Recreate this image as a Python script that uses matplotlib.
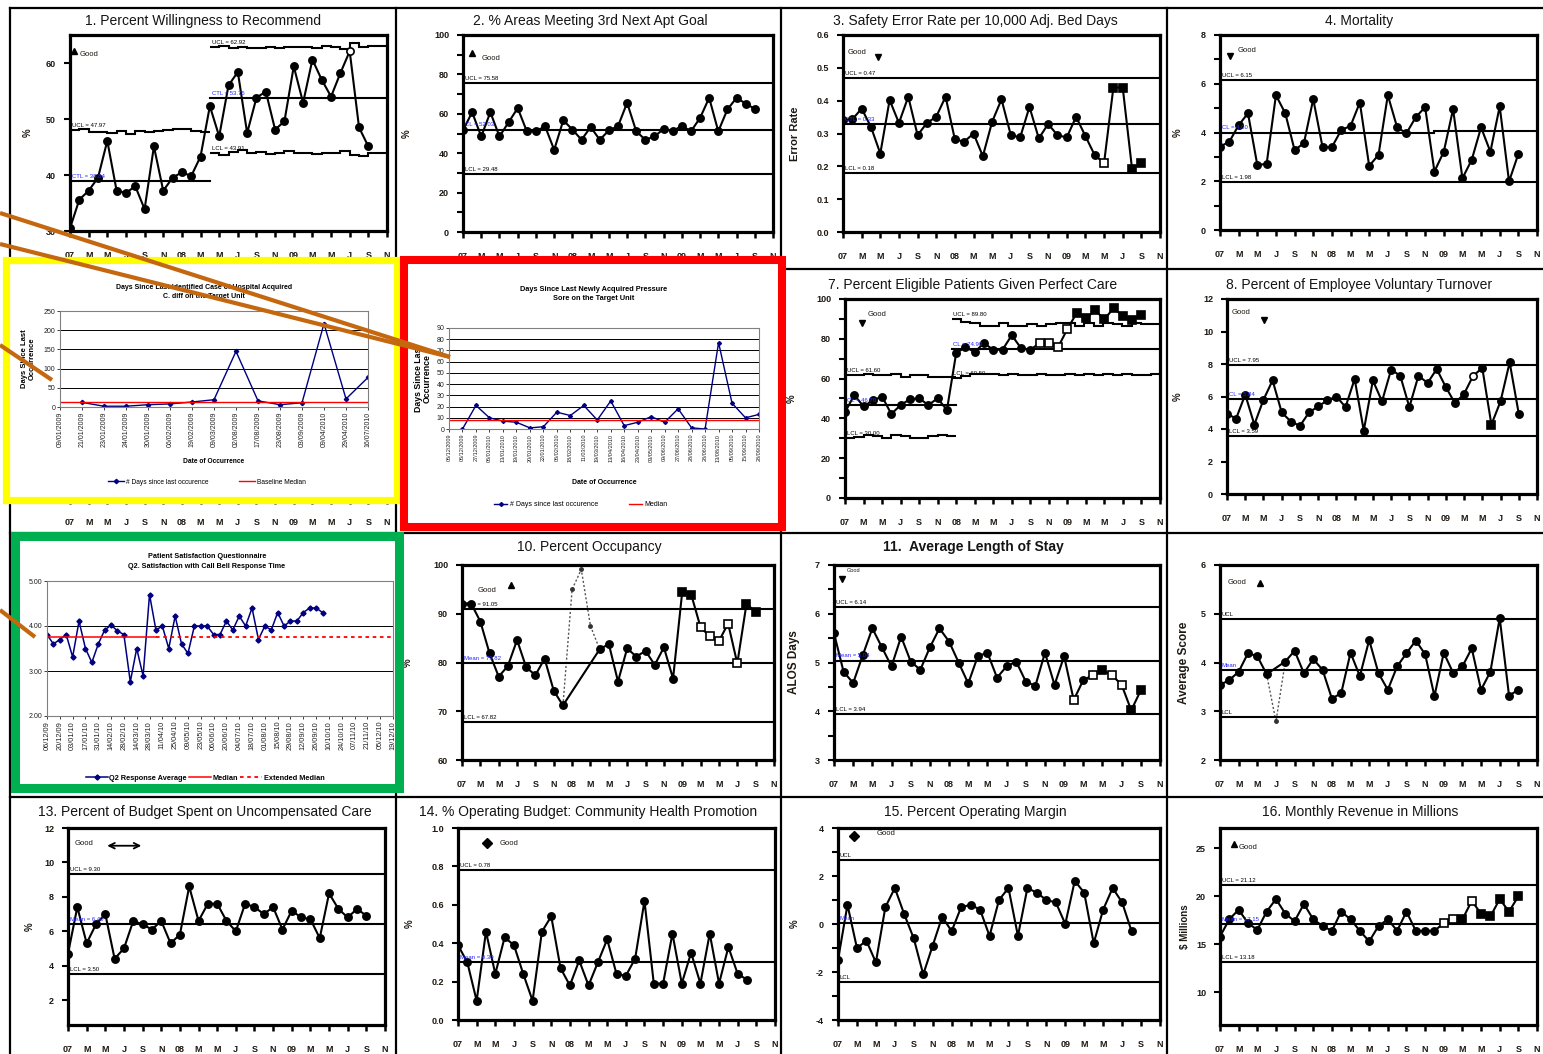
import numpy as np
import matplotlib.pyplot as plt
from matplotlib.patches import Rectangle
from matplotlib.lines import Line2D

plt.rcParams['font.family'] = ['Liberation Sans', 'DejaVu Sans']

# ---------------- data ----------------
MONTHS = ['07', 'M', 'M', 'J', 'S', 'N', '08', 'M', 'M', 'J', 'S', 'N',
          '09', 'M', 'M', 'J', 'S', 'N']

recommend = [30.5, 35.6, 37.2, 39.5, 46.1, 37.2, 36.8, 38.0, 33.9, 45.1, 37.2,
             39.5, 40.5, 39.8, 43.3, 52.3, 46.9, 56.0, 58.4, 47.5, 53.8, 54.9,
             48.1, 49.6, 59.4, 52.9, 60.6, 57.0, 54.0, 58.2, 62.1, 48.5, 45.1]
recommend_ucl1 = [47.97, 48.2, 47.7, 47.6, 47.5, 47.8, 47.4, 47.8, 47.6, 47.9,
                  48.0, 48.2, 48.3, 47.9, 47.6]
recommend_ucl2 = [62.92, 63.0, 62.7, 62.9, 62.6, 62.6, 62.9, 62.6, 62.8, 62.9,
                  62.9, 62.7, 63.0, 62.9, 62.5, 63.6, 62.9, 63.0, 63.0]
recommend_lcl2 = [43.91, 43.6, 44.1, 44.4, 43.9, 44.1, 43.8, 43.9, 44.2, 43.9,
                  43.9, 43.7, 44.0, 44.0, 44.3, 43.5, 43.4, 44.0, 44.0]

appt_goal = [51.6, 60.8, 48.5, 60.8, 48.5, 55.7, 62.9, 51.1, 51.1, 53.7, 41.7,
             56.7, 52.0, 46.8, 53.3, 46.8, 51.6, 53.7, 65.6, 51.1, 46.8, 48.5,
             52.3, 51.1, 54.0, 51.1, 57.9, 68.1, 51.1, 62.2, 68.1, 65.2, 62.5]

error_rate = [0.341, 0.343, 0.376, 0.320, 0.239, 0.402, 0.332, 0.412, 0.295,
              0.332, 0.351, 0.412, 0.282, 0.275, 0.300, 0.231, 0.336, 0.404,
              0.295, 0.288, 0.381, 0.285, 0.329, 0.295, 0.288, 0.351, 0.292,
              0.234, 0.210, 0.440, 0.440, 0.193, 0.210]

mortality = [3.42, 3.62, 4.30, 4.79, 2.67, 2.71, 5.53, 4.79, 3.28, 3.56, 5.37,
             3.40, 3.40, 4.10, 4.27, 5.23, 2.63, 3.08, 5.53, 4.21, 3.97, 4.63,
             5.04, 2.40, 3.21, 4.96, 2.12, 2.88, 4.21, 3.21, 5.07, 1.99, 3.12]

perfect_care = [43.0, 51.8, 46.0, 49.0, 51.0, 42.2, 46.7, 49.6, 50.1, 46.7,
                50.1, 44.2, 72.8, 75.8, 73.4, 77.8, 74.5, 74.5, 81.8, 75.3,
                74.5, 77.8, 77.8, 75.8, 84.9, 92.9, 90.3, 94.3, 89.8, 95.5,
                91.3, 89.2, 92.1]
care_ucl1 = [61.6, 61.6, 62.3, 61.6, 61.6, 62.3, 60.6, 61.6, 61.6, 61.0, 61.0, 61.0]
care_lcl1 = [30.0, 30.8, 31.7, 31.0, 30.2, 31.7, 31.0, 30.2, 30.2, 31.0, 31.7, 31.0]
care_ucl2 = [89.8, 88.5, 87.9, 86.6, 86.6, 88.1, 86.6, 86.6, 87.2, 86.6, 87.2,
             87.9, 87.9, 86.6, 87.9, 86.6, 87.9, 87.2, 86.6, 87.9, 87.2, 87.2]
care_lcl2 = [60.5, 61.5, 62.4, 62.4, 62.4, 61.6, 62.4, 61.6, 61.6, 62.4, 61.6,
             61.6, 62.4, 61.6, 62.4, 61.6, 62.4, 61.6, 62.4, 61.6, 61.6, 62.4]

turnover = [4.94, 4.64, 6.12, 4.27, 5.80, 6.99, 5.02, 4.46, 4.19, 5.02, 5.39,
            5.76, 6.00, 5.35, 7.08, 3.90, 6.99, 5.70, 7.65, 7.28, 5.35, 7.28,
            6.83, 7.69, 6.58, 5.59, 6.16, 7.28, 7.75, 4.27, 5.70, 8.10, 4.94]

occupancy = [92.1, 92.1, 88.4, 81.9, 77.1, 79.3, 84.6, 79.0, 77.4, 80.8, 74.2,
             71.2, 95.0, 99.1, 87.5, 82.7, 83.8, 76.1, 82.9, 81.2, 82.4, 79.5,
             83.1, 76.7, 94.5, 93.8, 87.2, 85.4, 84.4, 88.0, 79.8, 92.0, 90.4]

alos = [5.60, 4.81, 4.58, 5.15, 5.70, 5.31, 4.92, 5.53, 5.02, 4.85, 5.31, 5.70,
        5.43, 5.00, 4.57, 5.13, 5.20, 4.69, 4.92, 5.02, 4.61, 4.52, 5.20, 4.54,
        5.13, 4.23, 4.64, 4.74, 4.84, 4.74, 4.54, 4.02, 4.43]

avg_score = [3.54, 3.64, 3.81, 4.19, 4.13, 3.76, 2.79, 4.02, 4.24, 3.78, 4.07,
             3.85, 3.26, 3.37, 4.20, 3.72, 4.46, 3.78, 3.44, 3.92, 4.19, 4.45,
             4.17, 3.31, 4.20, 3.79, 3.92, 4.29, 3.44, 3.81, 4.91, 3.32, 3.44]

uncomp_care = [4.7, 7.4, 5.3, 6.4, 7.0, 4.4, 5.0, 6.6, 6.4, 6.1, 6.6, 5.3, 5.8,
               8.6, 6.6, 7.6, 7.6, 6.6, 6.0, 7.6, 7.4, 7.0, 7.4, 6.1, 7.2, 6.8,
               6.7, 5.6, 8.2, 7.3, 6.8, 7.3, 6.9]

health_promo = [0.39, 0.30, 0.10, 0.46, 0.24, 0.43, 0.39, 0.24, 0.10, 0.46,
                0.54, 0.27, 0.18, 0.31, 0.18, 0.30, 0.42, 0.24, 0.23, 0.32,
                0.62, 0.19, 0.19, 0.45, 0.19, 0.35, 0.19, 0.45, 0.19, 0.38,
                0.24, 0.21]

op_margin = [-1.5, 0.8, -1.0, -0.7, -1.6, 0.7, 1.5, 0.4, -0.6, -2.1, -0.9, 0.3,
             -0.3, 0.7, 0.8, 0.6, -0.5, 1.0, 1.5, -0.5, 1.5, 1.3, 1.0, 0.9, 0.0,
             1.8, 1.3, -0.8, 0.6, 1.5, 0.9, -0.3]

revenue = [15.8, 17.6, 18.6, 17.2, 16.5, 18.4, 19.7, 18.2, 17.4, 19.2, 17.6,
           16.9, 16.4, 18.4, 17.6, 16.4, 15.3, 16.9, 17.6, 16.4, 18.4, 16.4,
           16.4, 16.4, 17.2, 17.6, 17.6, 19.5, 18.2, 17.9, 19.7, 18.4, 20.0]

cdiff_dates = ['09/01/2009', '21/01/2009', '23/01/2009', '24/01/2009',
               '30/01/2009', '06/02/2009', '19/02/2009', '09/03/2009',
               '02/08/2009', '17/08/2009', '23/08/2009', '03/09/2009',
               '09/04/2010', '29/04/2010', '16/07/2010']
cdiff_days = [12, 2, 2, 6, 8, 13, 19, 145, 16, 6, 11, 217, 21, 77]
cdiff_median = 13

pressure_dates = ['06/12/2009', '06/12/2009', '27/12/2009', '06/01/2010',
                  '13/01/2010', '19/01/2010', '20/01/2010', '22/01/2010',
                  '06/02/2010', '18/02/2010', '11/03/2010', '19/03/2010',
                  '13/04/2010', '16/04/2010', '23/04/2010', '03/05/2010',
                  '09/06/2010', '27/06/2010', '28/06/2010', '28/06/2010',
                  '13/08/2010', '05/09/2010', '15/09/2010', '28/09/2010']
pressure_days = [0, 21, 10, 7, 6, 1, 2, 15, 12, 21, 8, 25, 3, 6, 11, 6, 18,
                 1, 0, 77, 23, 10, 13]
pressure_median = 8

bell_dates = ['06/12/09', '20/12/09', '03/01/10', '17/01/10', '31/01/10',
              '14/02/10', '28/02/10', '14/03/10', '28/03/10', '11/04/10',
              '25/04/10', '09/05/10', '23/05/10', '06/06/10', '20/06/10',
              '04/07/10', '18/07/10', '01/08/10', '15/08/10', '29/08/10',
              '12/09/10', '26/09/10', '10/10/10', '24/10/10', '07/11/10',
              '21/11/10', '05/12/10', '19/12/10']
bell_scores = [3.81, 3.60, 3.70, 3.81, 3.31, 4.11, 3.50, 3.19, 3.60, 3.91,
               4.02, 3.89, 3.81, 2.76, 3.50, 2.89, 4.70, 3.91, 4.00, 3.50,
               4.22, 3.60, 3.39, 4.00, 4.00, 4.00, 3.81, 3.81, 4.11, 3.91,
               4.22, 4.00, 4.40, 3.70, 4.00, 3.91, 4.30, 4.00, 4.11, 4.11,
               4.30, 4.40, 4.40, 4.30]
bell_median = 3.76
bell_median_end = 17

# ---------------- figure helpers ----------------
W, H = 1543, 1054
fig = plt.figure(figsize=(W / 100, H / 100), dpi=100)

INK = '#1e1812'
BLUE = '#2424ff'
NAVY = '#000080'
ORANGE = '#c4670f'
RIGHT = 1537  # right edge of the last column of charts


def box(l, t, r, b):
    return [l / W, 1 - b / H, (r - l) / W, (b - t) / H]


def control_chart(rect, ylim, yticks, yminor, ylabel, ylabel_x, fmt='{:g}',
                  title=None, title_xy=None, **title_kw):
    l, t, r, b = rect
    ax = fig.add_axes(box(l, t, r, b))
    ax.set_xlim(0, 34)
    ax.set_ylim(*ylim)
    ax.set_xticks(np.arange(0, 35, 2))
    ax.set_xticklabels(MONTHS)
    ax.set_yticks(yticks)
    ax.set_yticklabels([fmt.format(v) for v in yticks])
    ax.set_yticks(yminor, minor=True)
    ax.tick_params(axis='x', length=4.5, width=1.8, pad=10, labelsize=6.5,
                   labelcolor=INK)
    ax.tick_params(axis='y', which='both', length=4, width=1.5, pad=6,
                   labelsize=6.5, labelcolor=INK)
    for lbl in ax.get_xticklabels() + ax.get_yticklabels():
        lbl.set_fontweight('bold')
    for sp in ax.spines.values():
        sp.set_linewidth(2.3)
    ax.set_ylabel(ylabel, fontsize=7, color=INK, fontweight='bold')
    ax.yaxis.set_label_coords((ylabel_x - l) / (r - l), 0.5)
    if title:
        fig.text(title_xy[0] / W, 1 - title_xy[1] / H, title, ha='center',
                 va='center', fontsize=10, color='#141414', **title_kw)
    return ax


def plot_series(ax, vals, squares=(), hollow=(), skip=()):
    y = np.asarray(vals, dtype=float)
    x = np.arange(len(y))
    solid = np.array([i not in skip for i in x])
    ax.plot(x[solid], y[solid], color='black', lw=1.5, zorder=3)
    if skip:
        lo, hi = min(skip) - 1, max(skip) + 1
        ax.plot(x[lo:hi + 1], y[lo:hi + 1], color='#555555', lw=1,
                ls=(0, (1.5, 1.5)), zorder=2)
        ax.plot(x[list(skip)], y[list(skip)], 'o', color='#333333', ms=2.5,
                zorder=3)
    for i in x:
        if i in skip:
            continue
        ax.plot(x[i], y[i], ls='none', marker='s' if i in squares else 'o',
                ms=5.2, mfc='white' if i in hollow else 'black', mec='black',
                mew=1.2, zorder=4)


def limit(ax, name, x0, x1, level, show=True):
    color = BLUE if name in ('CL', 'CTL', 'Mean') else 'black'
    if np.ndim(level):
        ax.stairs(level, np.linspace(x0, x1, len(level) + 1), baseline=None,
                  color='black', lw=1.5, zorder=2)
        first = level[0]
    else:
        ax.plot([x0, x1], [level, level], color='black', lw=1.5, zorder=2)
        first = level
    if show is None:
        return
    text = f'{name} = {first:.2f}' if show else name
    ax.annotate(text, (x0 + 0.2, first), xytext=(0, 1.5),
                textcoords='offset points', fontsize=4.3, color=color,
                va='bottom', ha='left', zorder=5)


def good(ax, marker, mx, my, tx, ty, fs=5.5):
    if marker == '<->':
        ax.annotate('', xy=(mx[1], my), xytext=(mx[0], my),
                    xycoords='axes fraction',
                    arrowprops=dict(arrowstyle='<->', lw=1.3, color='black'))
    else:
        ax.plot(mx, my, marker=marker, color='black', mfc='black', ms=5,
                transform=ax.transAxes, clip_on=False, zorder=5)
    ax.text(tx, ty, 'Good', transform=ax.transAxes, fontsize=fs, color=INK,
            va='center', ha='left')


# ---------------- cell borders ----------------
for x in (10, 396, 781, 1167):
    fig.add_artist(Line2D([x / W] * 2, [1 - 8 / H, 0], color='black', lw=1.6,
                          zorder=1))
for y in (8, 269, 533, 797):
    fig.add_artist(Line2D([10 / W, 1], [1 - y / H] * 2, color='black', lw=1.6,
                          zorder=1))

# ---------------- row 1 ----------------
ax = control_chart((70, 35, 387, 231), (30, 65), [30, 40, 50, 60], [], '%', 33,
                   title='1. Percent Willingness to Recommend', title_xy=(203, 21))
plot_series(ax, recommend, hollow=[30])
limit(ax, 'UCL', 0, 15, recommend_ucl1)
limit(ax, 'CTL', 0, 15, 38.84)
limit(ax, 'UCL', 15, 34, recommend_ucl2)
limit(ax, 'CTL', 15, 34, 53.75)
limit(ax, 'LCL', 15, 34, recommend_lcl2)
good(ax, '^', 0.013, 0.92, 0.03, 0.9)

ax = control_chart((463, 35, 773, 232), (0, 100), range(0, 101, 20),
                   range(10, 100, 20), '%', 412,
                   title='2. % Areas Meeting 3rd Next Apt Goal', title_xy=(590, 21))
plot_series(ax, appt_goal)
limit(ax, 'UCL', 0, 34, 75.58)
limit(ax, 'CL', 0, 34, 52.03)
limit(ax, 'LCL', 0, 34, 29.48)
good(ax, '^', 0.03, 0.91, 0.06, 0.88)

ax = control_chart((843, 35, 1160, 232), (0, 0.6), np.arange(0, 0.61, 0.1), [],
                   'Error Rate', 800, fmt='{:.1f}',
                   title='3. Safety Error Rate per 10,000 Adj. Bed Days',
                   title_xy=(975, 21))
ax.yaxis.label.set_fontsize(8)
plot_series(ax, error_rate, squares=range(28, 33), hollow=[28])
limit(ax, 'UCL', 0, 34, 0.47)
limit(ax, 'CTL', 0, 34, 0.33)
limit(ax, 'LCL', 0, 34, 0.18)
good(ax, 'v', 0.11, 0.89, 0.016, 0.91)

ax = control_chart((1220, 35, RIGHT, 230), (0, 8), [0, 2, 4, 6, 8], [1, 3, 5, 7],
                   '%', 1183, title='4. Mortality', title_xy=(1359, 21))
plot_series(ax, mortality)
limit(ax, 'UCL', 0, 34, 6.15)
limit(ax, 'CL', 0, 23, 4.00)
limit(ax, 'CL', 23, 34, 4.08, show=None)
limit(ax, 'LCL', 0, 34, 1.98)
good(ax, 'v', 0.03, 0.89, 0.055, 0.92)

# ---------------- row 2 ----------------
# chart 5 sits underneath the highlighted insert; only its month axis shows
ax = control_chart((70, 300, 387, 498), (0, 1), [], [], '', 33)

ax = control_chart((845, 299, 1160, 498), (0, 100), range(0, 101, 20),
                   range(10, 100, 20), '%', 797,
                   title='7. Percent Eligible Patients Given Perfect Care',
                   title_xy=(973, 285))
plot_series(ax, perfect_care, squares=range(21, 33), hollow=[21, 22, 23, 24])
limit(ax, 'UCL', 0, 12, care_ucl1)
limit(ax, 'CL', 0, 12, 46.70)
limit(ax, 'LCL', 0, 12, care_lcl1)
limit(ax, 'UCL', 11.5, 34, care_ucl2)
limit(ax, 'CL', 11.5, 34, 74.90)
limit(ax, 'LCL', 11.5, 34, care_lcl2)
good(ax, 'v', 0.054, 0.88, 0.073, 0.92)

ax = control_chart((1227, 299, RIGHT, 494), (0, 12), range(0, 13, 2), [], '%', 1183,
                   title='8. Percent of Employee Voluntary Turnover',
                   title_xy=(1359, 285))
plot_series(ax, turnover, squares=[29], hollow=[27])
limit(ax, 'UCL', 0, 34, 7.95)
limit(ax, 'CL', 0, 34, 5.84)
limit(ax, 'LCL', 0, 34, 3.59)
good(ax, 'v', 0.12, 0.89, 0.016, 0.93)

# ---------------- row 3 ----------------
ax = control_chart((462, 565, 774, 760), (60, 100), range(60, 101, 10), [], '%', 413,
                   title='10. Percent Occupancy', title_xy=(589, 547))
plot_series(ax, occupancy, squares=range(24, 33), hollow=[26, 27, 28, 29, 30],
            skip=(12, 13, 14))
limit(ax, 'UCL', 0, 34, 91.05)
limit(ax, 'Mean', 0, 34, 79.82)
limit(ax, 'LCL', 0, 34, 67.82)
good(ax, '^', 0.157, 0.9, 0.05, 0.87)

ax = control_chart((834, 565, 1160, 760), (3, 7), range(3, 8), [3.5, 4.5, 5.5, 6.5],
                   'ALOS Days', 800, title='11.  Average Length of Stay',
                   title_xy=(973, 547), fontweight='bold')
ax.yaxis.label.set_fontsize(8.5)
plot_series(ax, alos, squares=[25, 27, 28, 29, 30, 31, 32], hollow=[25, 27, 29, 30])
limit(ax, 'UCL', 0, 34, 6.14)
limit(ax, 'Mean', 0, 34, 5.04)
limit(ax, 'LCL', 0, 34, 3.94)
good(ax, 'v', 0.025, 0.93, 0.04, 0.97, fs=4)

ax = control_chart((1220, 565, RIGHT, 760), (2, 6), range(2, 7), [],
                   'Average Score', 1190)
ax.yaxis.label.set_fontsize(8.5)
plot_series(ax, avg_score, skip=(6,))
limit(ax, 'UCL', 0, 34, 4.90, show=False)
limit(ax, 'Mean', 0, 34, 3.85, show=False)
limit(ax, 'LCL', 0, 34, 2.88, show=False)
good(ax, '^', 0.125, 0.91, 0.025, 0.91)

# ---------------- row 4 ----------------
ax = control_chart((68, 828, 385, 1025), (0.55, 12), range(2, 13, 2), [], '%', 35,
                   title='13. Percent of Budget Spent on Uncompensated Care',
                   title_xy=(205, 812))
plot_series(ax, uncomp_care)
limit(ax, 'UCL', 0, 34, 9.30)
limit(ax, 'Mean', 0, 34, 6.40)
limit(ax, 'LCL', 0, 34, 3.50)
good(ax, '<->', (0.115, 0.24), 0.91, 0.022, 0.92)

ax = control_chart((458, 828, 775, 1020), (0, 1), np.arange(0, 1.01, 0.2), [],
                   '%', 415, fmt='{:.1f}',
                   title='14. % Operating Budget: Community Health Promotion',
                   title_xy=(588, 812))
plot_series(ax, health_promo)
limit(ax, 'UCL', 0, 34, 0.78)
limit(ax, 'Mean', 0, 34, 0.30)
good(ax, 'D', 0.09, 0.92, 0.13, 0.92)

ax = control_chart((838, 828, 1160, 1020), (-4, 4), [-4, -2, 0, 2, 4],
                   [-3, -1, 1, 3], '%', 800,
                   title='15. Percent Operating Margin', title_xy=(975, 812))
plot_series(ax, op_margin)
limit(ax, 'UCL', 0, 34, 2.67, show=False)
limit(ax, 'Mean', 0, 34, 0.05, show=False)
limit(ax, 'LCL', 0, 34, -2.42, show=False)
good(ax, 'D', 0.05, 0.96, 0.12, 0.97)

ax = control_chart((1220, 828, RIGHT, 1025), (6.6, 27.1), [10, 15, 20, 25], [],
                   r'\$ Millions', 1190,
                   title='16. Monthly Revenue in Millions', title_xy=(1360, 812))
plot_series(ax, revenue, squares=range(24, 33), hollow=[24, 25, 27])
limit(ax, 'UCL', 0, 34, 21.12)
limit(ax, 'Mean', 0, 34, 17.15)
limit(ax, 'LCL', 0, 34, 13.18)
good(ax, '^', 0.045, 0.92, 0.06, 0.9)

# ---------------- highlighted inserts ----------------
for (l, t, r, b), col, lw in (((6, 260, 397, 500), '#ffff00', 5.2),
                             ((404, 260, 782, 527), '#ff0000', 5.8),
                             ((15, 536, 399, 788), '#00b050', 6.5)):
    fig.add_artist(Rectangle((l / W, 1 - b / H), (r - l) / W, (b - t) / H,
                             transform=fig.transFigure, facecolor='white',
                             edgecolor=col, lw=lw, zorder=2))


def excel_axes(rect, tick_size, label_size=5.0):
    l, t, r, b = rect
    a = fig.add_axes(box(l, t, r, b), zorder=3)
    for sp in a.spines.values():
        sp.set_color('#808080')
        sp.set_linewidth(0.8)
    a.grid(axis='y', color='black', lw=0.7)
    a.set_axisbelow(True)
    a.tick_params(axis='x', length=2, width=0.6, labelsize=tick_size, pad=1.5,
                  colors='#202020')
    a.tick_params(axis='y', length=2, width=0.6, labelsize=label_size, pad=1.5,
                  colors='#202020')
    return a


def frac(rect, x=None, y=None):
    l, t, r, b = rect
    fx = None if x is None else (x - l) / (r - l)
    fy = None if y is None else (b - y) / (b - t)
    return fx, fy


# C. diff chart
r5 = (60, 311, 368, 407)
ax5 = excel_axes(r5, 5.0)
pos = np.arange(len(cdiff_dates))
ax5.plot(pos[1:], cdiff_days, color=NAVY, lw=1, marker='D', ms=2.2)
ax5.plot(pos[[0, -1]], [cdiff_median] * 2, color='red', lw=1)
ax5.set_xlim(0, pos[-1])
ax5.set_ylim(0, 250)
ax5.set_yticks(np.arange(0, 251, 50))
ax5.set_xticks(pos)
ax5.set_xticklabels(cdiff_dates, rotation=90)
ax5.text(*frac(r5, 204, 292), 'Days Since Last Identified Case of Hospital Acquired\n'
         'C. diff on the Target Unit', transform=ax5.transAxes, ha='center',
         va='center', fontsize=5, fontweight='bold', linespacing=1.3)
ax5.set_xlabel('Date of Occurrence', fontsize=4.8, fontweight='bold')
ax5.xaxis.set_label_coords(0.5, frac(r5, y=458)[1])
ax5.set_ylabel('Days Since Last\nOccurrence', fontsize=5.5, fontweight='bold',
               linespacing=1.1)
ax5.yaxis.set_label_coords(frac(r5, x=36)[0], 0.5)
ax5.legend([Line2D([], [], color=NAVY, marker='D', ms=2.2, lw=1),
            Line2D([], [], color='red', lw=1)],
           ['# Days since last occurence', 'Baseline Median'],
           loc='center', bbox_to_anchor=(frac(r5, x=207)[0], frac(r5, y=482)[1]),
           ncol=2, frameon=False, fontsize=4.8, handlelength=2.4,
           columnspacing=4.5, handletextpad=0.4)

# pressure sore chart
r6 = (449, 328, 759, 429)
ax6 = excel_axes(r6, 4.0, 5.0)
pos = np.arange(len(pressure_dates))
ax6.plot(pos[1:], pressure_days, color=NAVY, lw=1, marker='D', ms=2.0)
ax6.plot(pos[[0, -1]], [pressure_median] * 2, color='red', lw=1)
ax6.set_xlim(0, pos[-1])
ax6.set_ylim(0, 90)
ax6.set_yticks(np.arange(0, 91, 10))
ax6.set_xticks(pos)
ax6.set_xticklabels(pressure_dates, rotation=90)
ax6.text(*frac(r6, 594, 294), 'Days Since Last Newly Acquired Pressure\n'
         'Sore on the Target Unit', transform=ax6.transAxes, ha='center',
         va='center', fontsize=5.3, fontweight='bold', linespacing=1.5)
ax6.set_xlabel('Date of Occurrence', fontsize=5, fontweight='bold')
ax6.xaxis.set_label_coords(0.5, frac(r6, y=479)[1])
ax6.set_ylabel('Days Since Last\nOccurrence', fontsize=6.3, fontweight='bold',
               linespacing=1.0)
ax6.yaxis.set_label_coords(frac(r6, x=432)[0], 0.5)
ax6.legend([Line2D([], [], color=NAVY, marker='D', ms=2.0, lw=1),
            Line2D([], [], color='red', lw=1)],
           ['# Days since last occurence', 'Median'],
           loc='center', bbox_to_anchor=(frac(r6, x=581)[0], frac(r6, y=505)[1]),
           ncol=2, frameon=False, fontsize=5, handlelength=1.8,
           columnspacing=4.5, handletextpad=0.4)

# call bell satisfaction chart
r9 = (47, 581, 393, 716)
ax9 = excel_axes(r9, 5.3, 5.0)
weeks = np.arange(len(bell_scores))
ticks = np.arange(0, 2 * len(bell_dates), 2)
ax9.plot(weeks, bell_scores, color=NAVY, lw=1.1, marker='D', ms=2.6)
ax9.plot([0, bell_median_end], [bell_median] * 2, color='red', lw=1.1)
ax9.plot([bell_median_end, ticks[-1]], [bell_median] * 2, color='red', lw=1.3,
         ls=(0, (2, 2)))
ax9.set_xlim(0, ticks[-1])
ax9.set_ylim(2, 5)
ax9.set_yticks([2, 3, 4, 5])
ax9.set_yticklabels(['2.00', '3.00', '4.00', '5.00'])
ax9.set_xticks(ticks)
ax9.set_xticklabels(bell_dates, rotation=90)
ax9.text(*frac(r9, 207, 561), 'Patient Satisfaction Questionnaire\n'
         'Q2. Satisfaction with Call Bell Response Time', transform=ax9.transAxes,
         ha='center', va='center', fontsize=5.2, fontweight='bold', linespacing=1.6)
ax9.legend([Line2D([], [], color=NAVY, marker='D', ms=2.6, lw=1.1),
            Line2D([], [], color='red', lw=1.1),
            Line2D([], [], color='red', lw=1.3, ls=(0, (2, 2)))],
           ['Q2 Response Average', 'Median', 'Extended Median'],
           loc='center', bbox_to_anchor=(frac(r9, x=205)[0], frac(r9, y=778)[1]),
           ncol=3, frameon=False, prop=dict(size=5.3, weight='bold'),
           handlelength=3.0, columnspacing=0.3, handletextpad=0.2)

# ---------------- pointer strokes ----------------
for (x0, y0), (x1, y1) in (((0, 213), (450, 357)),
                           ((0, 244), (450, 357)),
                           ((0, 345), (52, 380)),
                           ((0, 610), (35, 637))):
    fig.add_artist(Line2D([x0 / W, x1 / W], [1 - y0 / H, 1 - y1 / H],
                          color=ORANGE, lw=3.0, solid_capstyle='butt', zorder=4))

fig.savefig('out.png', dpi=100, facecolor='white')
